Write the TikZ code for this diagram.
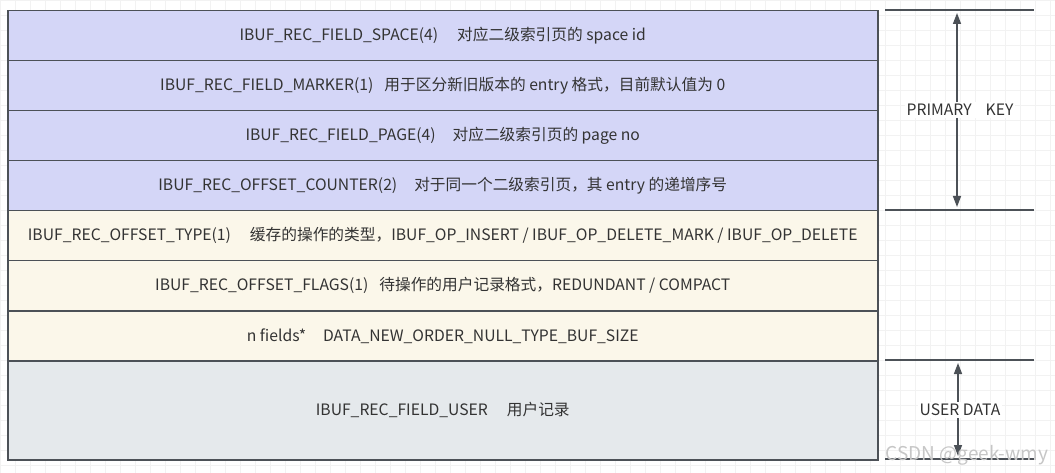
\documentclass[tikz,border=0pt]{standalone}
\usepackage{fontspec}
\setmainfont{Noto Sans CJK SC}
\usetikzlibrary{arrows.meta}
\definecolor{keyblue}{HTML}{D4D6F7}
\definecolor{opcream}{HTML}{FBF7EA}
\definecolor{usergray}{HTML}{E5E9EC}
\definecolor{edgegray}{HTML}{4C5157}
\definecolor{txtgray}{HTML}{333333}
\definecolor{gridgray}{HTML}{F2F2F2}

\begin{document}
\begin{tikzpicture}[x=1pt,y=-1pt,>={Triangle[length=11pt,width=8pt]},
  field/.style={draw=edgegray,line width=1.5pt,minimum width=870pt,minimum height=50pt,
    anchor=north west,inner sep=0pt,text=txtgray,font=\fontsize{15.7}{18}\selectfont},
  sideline/.style={draw=edgegray,line width=1.5pt},
  sidelabel/.style={fill=white,inner sep=2pt,text=txtgray,font=\fontsize{15.7}{18}\selectfont}]
\useasboundingbox (0,0) rectangle (1055,473);
\fill[white] (0,0) rectangle (1055,473);
\draw[gridgray,line width=0.8pt,step=15pt] (0,0) grid (1055,473);

% record layout
\node[field,fill=keyblue] (space) at (7,10) {IBUF\_REC\_FIELD\_SPACE(4)\hspace{19pt}对应二级索引页的 space id};
\node[field,fill=keyblue] (marker) at (7,60) {IBUF\_REC\_FIELD\_MARKER(1)\hspace{11pt}用于区分新旧版本的 entry 格式，目前默认值为 0};
\node[field,fill=keyblue] (page) at (7,110) {IBUF\_REC\_FIELD\_PAGE(4)\hspace{17pt}对应二级索引页的 page no};
\node[field,fill=keyblue] (counter) at (7,160) {IBUF\_REC\_OFFSET\_COUNTER(2)\hspace{17pt}对于同一个二级索引页，其 entry 的递增序号};
\node[field,fill=opcream] (optype) at (7,210) {IBUF\_REC\_OFFSET\_TYPE(1)\hspace{19pt}缓存的操作的类型，IBUF\_OP\_INSERT / IBUF\_OP\_DELETE\_MARK / IBUF\_OP\_DELETE};
\node[field,fill=opcream] (flags) at (7,260) {IBUF\_REC\_OFFSET\_FLAGS(1)\hspace{11pt}待操作的用户记录格式，REDUNDANT / COMPACT};
\node[field,fill=opcream] (nfields) at (7,310) {n fields*\hspace{17pt}DATA\_NEW\_ORDER\_NULL\_TYPE\_BUF\_SIZE};
\node[field,fill=usergray,minimum height=99pt] (user) at (7,360) {IBUF\_REC\_FIELD\_USER\hspace{19pt}用户记录};

% brackets on the right
\draw[sideline] (885,10) -- (1034,10);
\draw[sideline] (885,210) -- (1034,210);
\draw[sideline] (885,360) -- (1034,360);
\draw[sideline] (885,459) -- (1034,459);
\coordinate (pktop) at (957,13);
\coordinate (pkbot) at (957,207);
\coordinate (udtop) at (958,363);
\coordinate (udbot) at (958,456);
\node[sidelabel] (pk) at (960,110) {PRIMARY\hspace{14pt}KEY};
\node[sidelabel] (ud) at (960,410) {USER DATA};
\draw[sideline,->] (pk.north -| pktop) -- (pktop);
\draw[sideline,->] (pk.south -| pkbot) -- (pkbot);
\draw[sideline,->] (ud.north -| udtop) -- (udtop);
\draw[sideline,->] (ud.south -| udbot) -- (udbot);

\node[text=gray!45,font=\fontsize{19}{22}\selectfont,inner sep=0pt] (mark) at (967,455) {CSDN @geek-wmy};
\end{tikzpicture}
\end{document}
